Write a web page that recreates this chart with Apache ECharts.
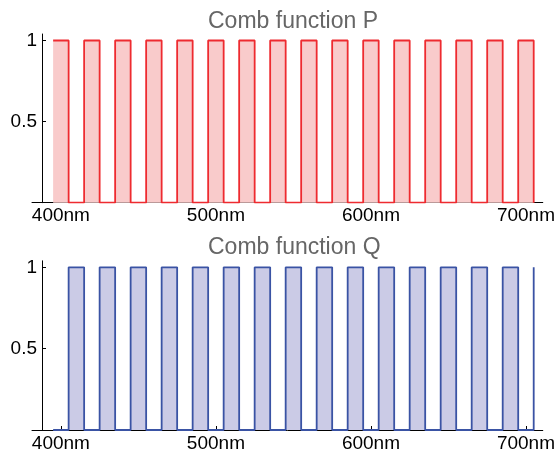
<!DOCTYPE html>
<html>
<head>
<meta charset="utf-8">
<script src="https://cdn.jsdelivr.net/npm/echarts@6/dist/echarts.min.js"></script>
<style>
html,body{margin:0;padding:0;background:#fff;}
#chart{width:558px;height:453px;}
</style>
</head>
<body>
<div id="chart"></div>
<script>
// Wavelength break points (nm) where the combs switch
const wavelengths = [395,405,415,425,435,445,455,465,475,485,495,505,515,525,535,545,555,565,575,585,595,605,615,625,635,645,655,665,675,685,695,705];
// Comb P values (held until the next break point)
const combP = [1,0,1,0,1,0,1,0,1,0,1,0,1,0,1,0,1,0,1,0,1,0,1,0,1,0,1,0,1,0,1,0];
// Comb Q values (held until the next break point)
const combQ = [0,1,0,1,0,1,0,1,0,1,0,1,0,1,0,1,0,1,0,1,0,1,0,1,0,1,0,1,0,1,0,1];
const xTicks = [400,500,600,700];
const yTicks = [0.5,1];
const titles = ['Comb function P','Comb function Q'];

const FONT = '"Liberation Sans", Arial, Helvetica, sans-serif';
const chart = echarts.init(document.getElementById('chart'), null, {renderer:'canvas'});

function xAxisCfg(gi){
  return {
    type:'value', gridIndex:gi, min:381.37, max:710.85,
    axisLine:{show:true, onZero:false, lineStyle:{color:'#000', width:1}},
    axisTick:{show:true, inside:true, length:4, customValues:xTicks, lineStyle:{color:'#000'}},
    axisLabel:{show:true, customValues:xTicks, margin:4, color:'#000', fontSize:19, fontFamily:FONT,
      formatter: v => v + 'nm'},
    splitLine:{show:false}
  };
}
function yAxisCfg(gi){
  return {
    type:'value', gridIndex:gi, min:0, max:1.04, offset:-10,
    axisLine:{show:true, onZero:false, lineStyle:{color:'#000', width:1}},
    axisTick:{show:true, inside:true, length:4, customValues:yTicks, lineStyle:{color:'#000'}},
    axisLabel:{show:true, customValues:yTicks, margin:5, color:'#000', fontSize:19, fontFamily:FONT,
      formatter: v => (v === 1 ? '1' : String(v))},
    splitLine:{show:false}
  };
}

chart.setOption({
  animation:false,
  backgroundColor:'#fff',
  title:[
    {text:titles[0], left:203, top:5, textStyle:{color:'#666', fontSize:23, fontWeight:'normal', fontFamily:FONT}},
    {text:titles[1], left:203, top:231, textStyle:{color:'#666', fontSize:23, fontWeight:'normal', fontFamily:FONT}}
  ],
  grid:[
    {left:32, right:13, top:34, bottom:250.3},
    {left:32, right:13, top:260.8, bottom:23}
  ],
  xAxis:[xAxisCfg(0), xAxisCfg(1)],
  yAxis:[yAxisCfg(0), yAxisCfg(1)],
  series:[
    {type:'line', xAxisIndex:0, yAxisIndex:0, step:'end', showSymbol:false, symbol:'none',
     data: wavelengths.map((w,i)=>[w, combP[i]]),
     lineStyle:{color:'#ee2b30', width:1.8}, areaStyle:{color:'#f9cbcb', opacity:1}},
    {type:'line', xAxisIndex:1, yAxisIndex:1, step:'end', showSymbol:false, symbol:'none',
     data: wavelengths.map((w,i)=>[w, combQ[i]]),
     lineStyle:{color:'#3a53a4', width:1.8}, areaStyle:{color:'#cbcbe6', opacity:1}}
  ]
});
</script>
</body>
</html>
